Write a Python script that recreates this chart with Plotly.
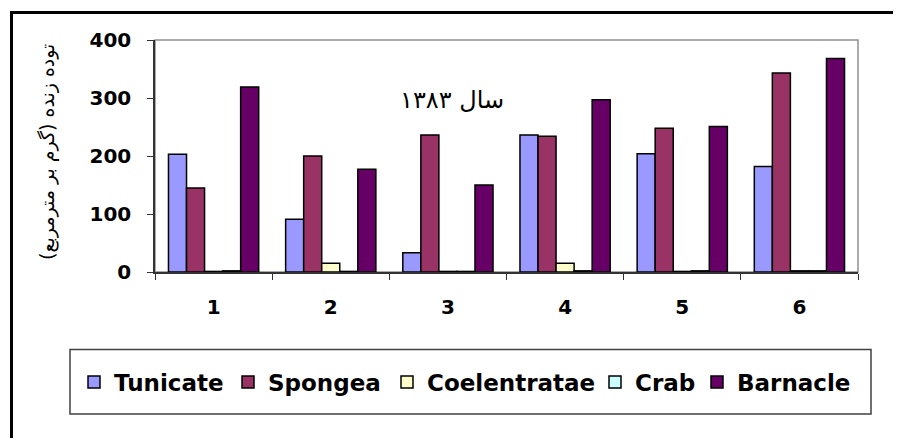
import plotly.graph_objects as go

categories = ["1", "2", "3", "4", "5", "6"]
tunicate = [203, 91, 33, 236, 204, 182]
spongea = [145, 200, 236, 234, 248, 343]
coelentratae = [1, 15, 1, 15, 1, 2]
crab = [2, 1, 1, 2, 2, 2]
barnacle = [319, 177, 150, 297, 251, 368]

series_names = ["Tunicate", "Spongea", "Coelentratae", "Crab", "Barnacle"]
series_values = [tunicate, spongea, coelentratae, crab, barnacle]
colors = ["#9999FF", "#993366", "#FFFFCC", "#CCFFFF", "#660066"]
legend_text_x = [114, 268, 427, 635, 737]  # reference pixel x where each legend label starts

y_ticks = [0, 100, 200, 300, 400]
title_text = "سال ۱۳۸۳"
ytitle_text = "توده زنده (گرم بر مترمربع)"

# page body has an 8px margin: the figure is drawn from (8, 8)
OFF = 8
W, H = 901 - OFF, 438 - OFF
L, R, T, B = 155 - OFF, 43, 40 - OFF, 166
pw, ph = W - L - R, H - T - B

def px(x):  # reference pixel -> paper
    return (x - OFF - L) / pw

def py(y):
    return (H - B - (y - OFF)) / ph

font_main = dict(family="DejaVu Sans", size=20, color="black", weight="bold")
font_leg = dict(family="DejaVu Sans", size=23, color="black", weight="bold")

fig = go.Figure()
legend_layouts = {}
for i, (name, vals, col, lx) in enumerate(zip(series_names, series_values, colors, legend_text_x)):
    lname = "legend" if i == 0 else f"legend{i + 1}"
    fig.add_trace(go.Bar(
        x=categories, y=vals, name=name, legend=lname,
        marker=dict(color=col, line=dict(color="black", width=1.5)),
    ))
    legend_layouts[lname] = dict(
        orientation="h", x=px(lx - 40), xanchor="left",
        y=py(382), yanchor="middle",
        font=font_leg, bgcolor="rgba(0,0,0,0)", borderwidth=0,
        itemwidth=30,
    )

fig.update_layout(
    width=W, height=H,
    margin=dict(l=L, r=R, t=T, b=B, pad=0),
    paper_bgcolor="white", plot_bgcolor="white",
    barmode="group", bargap=0.23, bargroupgap=0,
    showlegend=True,
    xaxis=dict(
        type="category", showgrid=False, zeroline=False,
        showline=True, linecolor="#333333", linewidth=1.5,
        ticks="outside", tickson="boundaries", ticklen=6, tickcolor="#333333",
        tickfont=font_main, ticklabelstandoff=16,
    ),
    yaxis=dict(
        range=[0, 400], tickvals=y_ticks, showgrid=False, zeroline=False,
        showline=True, linecolor="#333333", linewidth=1.5,
        ticks="outside", ticklen=6, tickcolor="#333333",
        tickfont=font_main, ticklabelstandoff=12,
    ),
    shapes=[
        dict(type="rect", xref="paper", yref="paper", x0=0, x1=1, y0=0, y1=1,
             line=dict(color="#909090", width=1.5), layer="below"),
        dict(type="line", xref="paper", yref="paper",
             x0=px(11.5), x1=px(905), y0=py(12.5), y1=py(12.5),
             line=dict(color="black", width=3)),
        dict(type="line", xref="paper", yref="paper",
             x0=px(11.5), x1=px(11.5), y0=py(11), y1=py(445),
             line=dict(color="black", width=3)),
        dict(type="rect", xref="paper", yref="paper",
             x0=px(70), x1=px(871), y0=py(414), y1=py(349.5),
             line=dict(color="#404040", width=1.5)),
    ],
    annotations=[
        dict(text=title_text, xref="paper", yref="paper",
             x=px(452), y=py(100), xanchor="center", yanchor="middle",
             showarrow=False,
             font=dict(family="DejaVu Serif, DejaVu Sans", size=24, color="black")),
        dict(text=ytitle_text, xref="paper", yref="paper",
             x=px(47), y=py(152), xanchor="center", yanchor="middle",
             textangle=-90, showarrow=False,
             font=dict(family="DejaVu Sans", size=19, color="black")),
    ],
)
fig.update_layout(**legend_layouts)

fig.write_html("out.html")
